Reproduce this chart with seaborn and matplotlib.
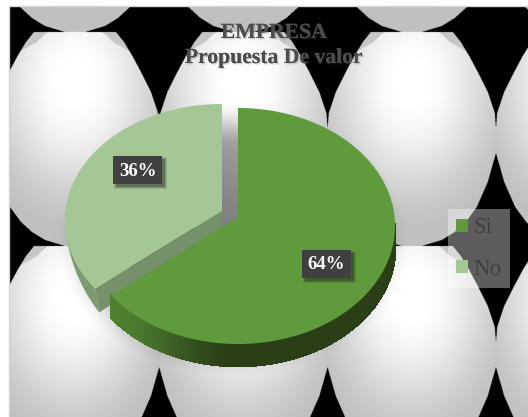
import numpy as np
import matplotlib
matplotlib.use("Agg")
import matplotlib.pyplot as plt
import matplotlib.patheffects as pe
from matplotlib.collections import PolyCollection
from matplotlib.patches import Patch, Rectangle
import seaborn as sns

# Survey result
categories = ["Si", "No"]
shares = [64, 36]
title_lines = ["EMPRESA", "Propuesta De valor"]

sns.set_theme(style="white")
plt.rcParams["font.family"] = ["Liberation Serif", "DejaVu Serif"]

W, H = 528, 417
SI_TOP, NO_TOP = "#5F9B3D", "#A5C695"
NO_SIDE = "#75906A"
DARK = "#404040"


def smoothstep(a, b, x):
    u = np.clip((x - a) / (b - a), 0, 1)
    return u * u * (3 - 2 * u)


def egg_tile_texture():
    """Tiled egg wallpaper with a soft pie shadow, as a grey-level raster."""
    ss = 3
    xs = (np.arange((W - 9) * ss) + 0.5) / ss + 9
    ys = (np.arange((H - 6) * ss) + 0.5) / ss + 6
    X, Y = np.meshgrid(xs, ys)
    period_x, period_y = 168.4, 214.0
    dx = (X - 75 + period_x / 2) % period_x - period_x / 2
    t = (Y - 32) % period_y
    outline = np.interp(t, [0, 10, 25, 40, 60, 81, 100, 120, 150, 175, 190, 200, 208, 214],
                        [41, 49, 58, 66, 76, 83, 84.5, 84.5, 76, 65, 54, 43, 30, 10])
    dome = np.interp(t, [0, 3, 6, 10, 20], [27, 31, 34, 38, 56])
    r = np.hypot(dx / 115, (t - 50) / 160)
    v = 1 - 0.25 * smoothstep(0.1, 1.0, r)
    v = np.where((np.abs(dx) > dome) & (t < 20), 0.78, v)
    v = np.where(np.abs(dx) <= outline, v, 0.0)
    d = np.hypot((X - 232) / 163, (Y - 240) / 126)
    v = v * (1 - 0.34 * (1 - smoothstep(0.72, 1.1, d)))
    return v


def rim_point(frac, apex, centre, rx, ry):
    """Point where the ray for a pie fraction leaves the tilted elliptical disc."""
    a = 2 * np.pi * frac
    ux, uy = rx * np.sin(a), -ry * np.cos(a)
    ox, oy = (apex[0] - centre[0]) / rx, (apex[1] - centre[1]) / ry
    px, py = ux / rx, uy / ry
    A, B, C = px * px + py * py, 2 * (ox * px + oy * py), ox * ox + oy * oy - 1
    s = (-B + np.sqrt(B * B - 4 * A * C)) / (2 * A)
    return apex[0] + s * ux, apex[1] + s * uy


def rim(start, stop, apex, centre, rx, ry, n=400):
    return np.array([rim_point(f, apex, centre, rx, ry)
                     for f in np.linspace(start, stop, n)])


fig = plt.figure(figsize=(W / 100, H / 100), dpi=100, facecolor="white")
ax = fig.add_axes([0, 0, 1, 1])
ax.imshow(egg_tile_texture(), cmap="gray", vmin=0, vmax=1, extent=(9, W, H, 6),
          interpolation="antialiased", zorder=0, aspect="auto")
ax.set_xlim(0, W)
ax.set_ylim(H, 0)
ax.axis("off")
ax.plot([9, 9, W], [H, 6, 6], color="#D4D4D4", lw=1, zorder=1)

fractions = np.array(shares) / sum(shares)
cut = fractions[0]

# Si slice: extruded rim shaded from mid green into deep green, then the top face
si_apex, si_centre = (238, 217), (238, 226)
si_rim = rim(0, cut, si_apex, si_centre, 157, 118)
front = si_rim[si_rim[:, 1] >= 224]
depth = 22
quads = [[(a[0], a[1]), (b[0], b[1]), (b[0], b[1] + depth), (a[0], a[1] + depth)]
         for a, b in zip(front[:-1], front[1:])]
mid_x = (front[:-1, 0] + front[1:, 0]) / 2
mix = smoothstep(110, 235, mid_x)[:, None]
shade = (1 - mix) * np.array(matplotlib.colors.to_rgb("#4F8031")) + \
    mix * np.array(matplotlib.colors.to_rgb("#2A3E17"))
ax.add_collection(PolyCollection(quads, facecolors=shade, edgecolors=shade, lw=1.2,
                                 antialiased=False, zorder=3))
ax.fill(*np.vstack([si_apex, si_rim]).T, color=SI_TOP, lw=0, zorder=4, label=categories[0])

# No slice: pulled out from the pie, with a visible cut face
no_apex, no_centre = (222, 211), (222, 220)
no_rim = rim(cut, 1, no_apex, no_centre, 157, 116)
corner = no_rim[0]
left_i = np.argmin(no_rim[:, 0])
no_arc = no_rim[:left_i + 1]
drop = 24 * (no_arc[:, 1] - no_arc[-1, 1]) / (corner[1] - no_arc[-1, 1])
lower_arc = np.column_stack([no_arc[:, 0] + 4 * drop / 24, no_arc[:, 1] + drop])
ax.fill(*np.vstack([no_arc, lower_arc[::-1]]).T, color="#7D9A70", lw=0, zorder=2)
cut_face = [no_apex, tuple(corner), (corner[0] + 4, corner[1] + 24), (no_apex[0], no_apex[1] + 20)]
ax.fill(*np.array(cut_face).T, color=NO_SIDE, lw=0, zorder=2)
ax.fill(*np.vstack([no_apex, no_rim]).T, color=NO_TOP, lw=0, zorder=2.5, label=categories[1])

# Value labels on dark plates with a soft drop shadow
label_spots = [(326.5, 263.5), (137.5, 170)]
plate_w, plate_h = 49, 28
for value, (lx, ly) in zip(shares, label_spots):
    for grow, alpha in [(2, 0.12), (1, 0.18), (0, 0.3)]:
        ax.add_patch(Rectangle((lx - plate_w / 2 + 3 - grow, ly - plate_h / 2 + 3 - grow),
                               plate_w + 2 * grow, plate_h + 2 * grow,
                               facecolor="#1E1E1E", alpha=alpha, lw=0, zorder=5))
    ax.add_patch(Rectangle((lx - plate_w / 2, ly - plate_h / 2), plate_w, plate_h,
                           facecolor=DARK, lw=0, zorder=5.5))
    ax.text(lx, ly + 1, f"{value}%", fontsize=13.5, weight="bold", color="white",
            ha="center", va="center", zorder=6)

# Two-line heading
shadow = [pe.withSimplePatchShadow(offset=(1, -1), alpha=0.25, shadow_rgbFace="#555555"), pe.Normal()]
for line, y in zip(title_lines, [33, 58]):
    ax.text(273.5, y, line, fontsize=15.6, weight="bold", color="#4D4D4D", ha="center", va="center",
            path_effects=shadow, zorder=7)

handles = [Patch(facecolor=SI_TOP, edgecolor="none", label=categories[0]),
           Patch(facecolor=NO_TOP, edgecolor="none", label=categories[1])]
legend = ax.legend(handles=handles, loc="upper left", bbox_to_anchor=(448 / W, 1 - 209 / H),
                   prop=dict(size=16.5), labelcolor=DARK, frameon=True, framealpha=0.37,
                   facecolor="white", edgecolor="none", fancybox=False, borderpad=0.36,
                   borderaxespad=0, handlelength=0.5, handleheight=0.5, handletextpad=0.25,
                   labelspacing=0.9)
legend.set_zorder(8)

fig.savefig("out.png", dpi=100, facecolor="white")
